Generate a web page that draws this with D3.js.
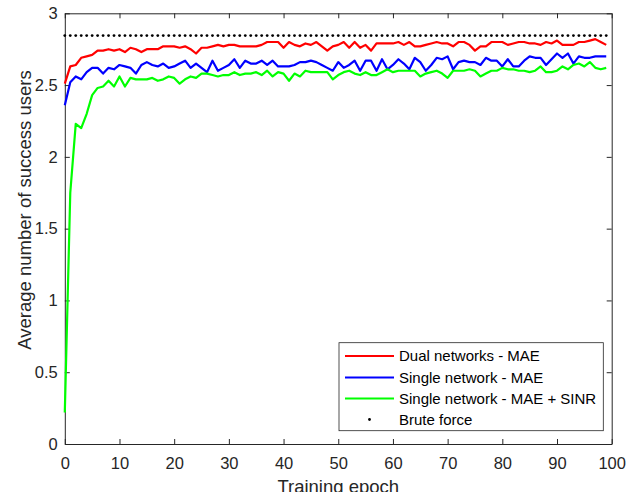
<!DOCTYPE html>
<html lang="en">
<head>
<meta charset="UTF-8">
<title>Average number of success users</title>
<script src="https://d3js.org/d3.v7.min.js"></script>
<style>
    body {
        margin: 0;
        background: #fff;
    }
    svg {
        display: block;
        font-family: "Liberation Sans", Arial, sans-serif;
    }
    .axis path, .axis line {
        stroke: #262626;
    }
    .axis text {
        fill: #262626;
    }
</style>
</head>
<body>
<svg id="chart" width="627" height="492"></svg>
<script>
// epochs 0..99
const epochs = d3.range(0, 100);

const dualMAE = [
    2.51, 2.63, 2.64, 2.69, 2.70, 2.71, 2.74, 2.74, 2.75, 2.74,
    2.75, 2.73, 2.76, 2.75, 2.73, 2.75, 2.75, 2.75, 2.77, 2.77,
    2.77, 2.76, 2.77, 2.75, 2.72, 2.76, 2.76, 2.77, 2.78, 2.77,
    2.78, 2.78, 2.77, 2.77, 2.77, 2.77, 2.78, 2.80, 2.80, 2.80,
    2.76, 2.80, 2.78, 2.77, 2.79, 2.78, 2.80, 2.77, 2.74, 2.77,
    2.78, 2.80, 2.76, 2.80, 2.76, 2.78, 2.74, 2.79, 2.79, 2.79,
    2.79, 2.80, 2.78, 2.80, 2.77, 2.77, 2.78, 2.79, 2.80, 2.79,
    2.79, 2.77, 2.80, 2.80, 2.78, 2.74, 2.77, 2.77, 2.80, 2.80,
    2.80, 2.78, 2.79, 2.80, 2.80, 2.79, 2.79, 2.78, 2.80, 2.79,
    2.81, 2.78, 2.78, 2.78, 2.80, 2.80, 2.81, 2.82, 2.80, 2.78
];

const singleMAE = [
    2.36, 2.52, 2.56, 2.54, 2.59, 2.62, 2.62, 2.58, 2.62, 2.61,
    2.64, 2.63, 2.62, 2.58, 2.64, 2.66, 2.64, 2.63, 2.65, 2.62,
    2.63, 2.65, 2.67, 2.62, 2.65, 2.62, 2.59, 2.67, 2.60, 2.62,
    2.64, 2.68, 2.62, 2.67, 2.65, 2.65, 2.67, 2.64, 2.67, 2.63,
    2.63, 2.63, 2.64, 2.66, 2.66, 2.67, 2.66, 2.64, 2.62, 2.60,
    2.66, 2.62, 2.64, 2.67, 2.60, 2.67, 2.67, 2.60, 2.68, 2.61,
    2.64, 2.68, 2.65, 2.61, 2.69, 2.66, 2.60, 2.64, 2.69, 2.68,
    2.70, 2.61, 2.66, 2.67, 2.66, 2.66, 2.64, 2.69, 2.67, 2.67,
    2.63, 2.68, 2.63, 2.63, 2.67, 2.70, 2.69, 2.69, 2.64, 2.68,
    2.72, 2.69, 2.72, 2.65, 2.70, 2.69, 2.69, 2.70, 2.70, 2.70
];

const singleMAESINR = [
    0.22, 1.75, 2.23, 2.20, 2.30, 2.43, 2.48, 2.49, 2.53, 2.49,
    2.56, 2.49, 2.55, 2.54, 2.54, 2.54, 2.55, 2.53, 2.54, 2.56,
    2.55, 2.51, 2.54, 2.56, 2.55, 2.58, 2.58, 2.57, 2.56, 2.57,
    2.57, 2.59, 2.57, 2.58, 2.58, 2.59, 2.57, 2.60, 2.56, 2.59,
    2.58, 2.53, 2.58, 2.56, 2.60, 2.59, 2.59, 2.59, 2.59, 2.54,
    2.57, 2.59, 2.60, 2.58, 2.57, 2.59, 2.57, 2.57, 2.59, 2.61,
    2.59, 2.60, 2.60, 2.60, 2.60, 2.56, 2.58, 2.59, 2.60, 2.58,
    2.55, 2.60, 2.60, 2.60, 2.61, 2.60, 2.56, 2.58, 2.60, 2.60,
    2.62, 2.61, 2.61, 2.60, 2.60, 2.59, 2.60, 2.63, 2.59, 2.59,
    2.60, 2.63, 2.61, 2.64, 2.65, 2.63, 2.66, 2.62, 2.61, 2.62
];

const bruteForce = epochs.map(() => 2.845);

const xTicks = [0, 10, 20, 30, 40, 50, 60, 70, 80, 90, 100];
const yTicks = [0, 0.5, 1, 1.5, 2, 2.5, 3];

const seriesNames = [
    'Dual networks - MAE',
    'Single network - MAE',
    'Single network - MAE + SINR',
    'Brute force'
];
const seriesColors = ['#ff0000', '#0000ff', '#00ff00', '#000000'];

const plotLeft = 64.8, plotRight = 611.7, plotTop = 13.3, plotBottom = 444;

const svg = d3.select('#chart');

const x = d3.scaleLinear().domain([0, 100]).range([plotLeft, plotRight]);
const y = d3.scaleLinear().domain([0, 3]).range([plotBottom, plotTop]);

// axes box, ticks point inward like matlab
svg.append('g')
    .attr('class', 'axis')
    .attr('transform', `translate(0,${plotBottom})`)
    .call(d3.axisBottom(x).tickValues(xTicks).tickSizeInner(-5).tickSizeOuter(0).tickPadding(13))
    .call(g => g.selectAll('text').attr('font-size', 16.5))
    .attr('font-family', null);

svg.append('g')
    .attr('class', 'axis')
    .attr('transform', `translate(0,${plotTop})`)
    .call(d3.axisTop(x).tickValues(xTicks).tickSizeInner(-5).tickSizeOuter(0).tickFormat(''));

svg.append('g')
    .attr('class', 'axis')
    .attr('transform', `translate(${plotLeft},0)`)
    .call(d3.axisLeft(y).tickValues(yTicks).tickSizeInner(-5).tickSizeOuter(0).tickPadding(7).tickFormat(d3.format('')))
    .call(g => g.selectAll('text').attr('font-size', 16.5))
    .attr('font-family', null);

svg.append('g')
    .attr('class', 'axis')
    .attr('transform', `translate(${plotRight},0)`)
    .call(d3.axisRight(y).tickValues(yTicks).tickSizeInner(-5).tickSizeOuter(0).tickFormat(''));

// axis labels
svg.append('text')
    .attr('x', (plotLeft + plotRight) / 2)
    .attr('y', 493)
    .attr('text-anchor', 'middle')
    .attr('font-size', 18.5)
    .attr('fill', '#262626')
    .text('Training epoch');

svg.append('text')
    .attr('transform', 'translate(31,210) rotate(-90)')
    .attr('text-anchor', 'middle')
    .attr('font-size', 18.5)
    .attr('fill', '#262626')
    .text('Average number of success users');

// lines
const line = d3.line()
    .x((d, i) => x(epochs[i]))
    .y(d => y(d));

[dualMAE, singleMAE, singleMAESINR].forEach((values, k) => {
    svg.append('path')
        .datum(values)
        .attr('fill', 'none')
        .attr('stroke', seriesColors[k])
        .attr('stroke-width', 2.2)
        .attr('stroke-linejoin', 'round')
        .attr('d', line);
});

svg.append('g')
    .selectAll('circle')
    .data(bruteForce)
    .enter().append('circle')
    .attr('cx', (d, i) => x(epochs[i]))
    .attr('cy', d => y(d))
    .attr('r', 1.4)
    .attr('fill', '#000');

// legend
const legend = svg.append('g');

legend.append('rect')
    .attr('x', 339)
    .attr('y', 342.7)
    .attr('width', 264.3)
    .attr('height', 88)
    .attr('fill', '#fff')
    .attr('stroke', '#262626')
    .attr('stroke-width', 0.8);

const rowY = [356, 377.5, 398.5, 419.5];

seriesNames.forEach((name, k) => {
    if (k < 3) {
        legend.append('line')
            .attr('x1', 345).attr('x2', 394)
            .attr('y1', rowY[k]).attr('y2', rowY[k])
            .attr('stroke', seriesColors[k])
            .attr('stroke-width', 2.2);
    } else {
        legend.append('circle')
            .attr('cx', 369.5)
            .attr('cy', rowY[k])
            .attr('r', 1.4)
            .attr('fill', seriesColors[k]);
    }
    legend.append('text')
        .attr('x', 399)
        .attr('y', rowY[k])
        .attr('dy', '0.35em')
        .attr('font-size', 15)
        .attr('fill', '#000')
        .text(name);
});
</script>
</body>
</html>
